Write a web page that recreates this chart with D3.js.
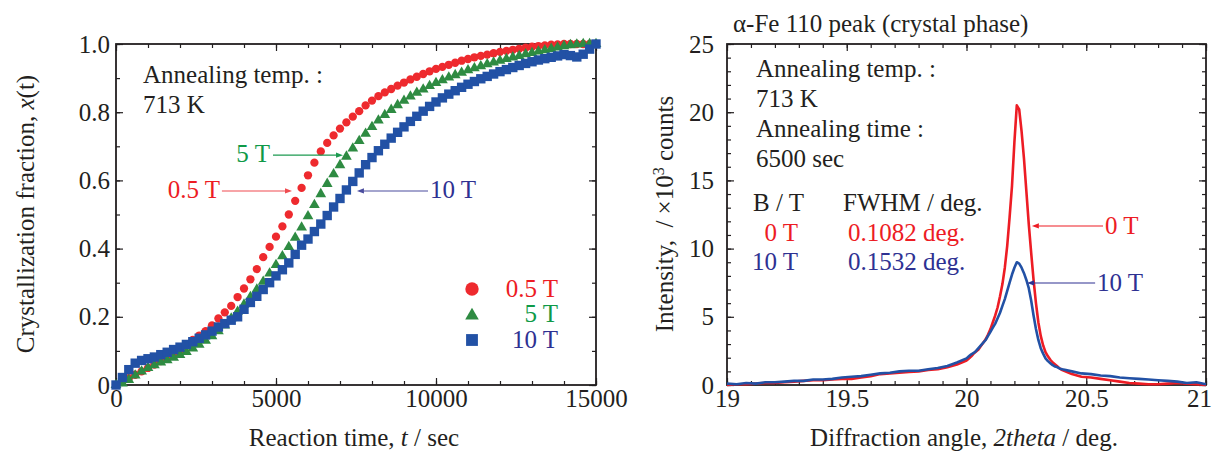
<!DOCTYPE html>
<html>
<head>
<meta charset="utf-8">
<script src="https://cdn.jsdelivr.net/npm/d3@7"></script>
<style>
  body { margin: 0; background: #fff; }
  svg text { font-family: "Liberation Serif", "Times New Roman", serif; font-size: 25px; fill: #231f20; }
</style>
</head>
<body>
<svg id="chart" width="1214" height="451"></svg>
<script>
// ---- left panel: crystallization fraction vs reaction time (sec)
const times = [0,200,400,600,800,1000,1200,1400,1600,1800,
  2000,2200,2400,2600,2800,3000,3200,3400,3600,3800,
  4000,4200,4400,4600,4800,5000,5200,5400,5600,5800,
  6000,6200,6400,6600,6800,7000,7200,7400,7600,7800,
  8000,8200,8400,8600,8800,9000,9200,9400,9600,9800,
  10000,10200,10400,10600,10800,11000,11200,11400,11600,11800,
  12000,12200,12400,12600,12800,13000,13200,13400,13600,13800,
  14000,14200,14400,14600,14800,15000];
const frac05T = [0,0.01,0.02,0.03,0.04,0.05,0.06,0.07,0.08,0.09,
  0.10,0.115,0.132,0.145,0.158,0.175,0.195,0.213,0.232,0.258,
  0.283,0.31,0.34,0.375,0.405,0.435,0.465,0.5,0.54,0.578,
  0.615,0.652,0.685,0.71,0.732,0.752,0.77,0.787,0.803,0.82,
  0.834,0.847,0.858,0.868,0.878,0.887,0.896,0.904,0.912,0.92,
  0.927,0.933,0.939,0.945,0.951,0.956,0.961,0.965,0.969,0.973,
  0.977,0.98,0.983,0.986,0.989,0.992,0.994,0.996,0.998,0.999,
  1.0,1.0,1.0,1.0,1.0,1.0];
const frac5T = [0,0.005,0.015,0.028,0.04,0.05,0.058,0.066,0.073,0.08,
  0.088,0.097,0.107,0.118,0.13,0.143,0.158,0.175,0.195,0.215,
  0.236,0.258,0.28,0.303,0.327,0.352,0.378,0.405,0.432,0.462,
  0.495,0.528,0.56,0.59,0.618,0.645,0.67,0.694,0.716,0.737,
  0.757,0.776,0.792,0.807,0.821,0.834,0.846,0.857,0.867,0.877,
  0.886,0.894,0.902,0.909,0.916,0.923,0.929,0.935,0.941,0.946,
  0.951,0.956,0.961,0.965,0.97,0.974,0.978,0.982,0.986,0.99,
  0.994,0.997,0.999,1.0,1.0,1.0];
const frac10T = [0,0.022,0.045,0.064,0.072,0.077,0.082,0.089,0.096,0.104,
  0.111,0.119,0.127,0.137,0.147,0.158,0.17,0.18,0.19,0.2,
  0.222,0.242,0.26,0.28,0.3,0.32,0.338,0.358,0.383,0.41,
  0.428,0.45,0.472,0.497,0.522,0.547,0.572,0.597,0.622,0.646,
  0.667,0.687,0.706,0.724,0.741,0.757,0.773,0.788,0.803,0.817,
  0.83,0.842,0.853,0.863,0.873,0.882,0.89,0.898,0.905,0.912,
  0.919,0.925,0.931,0.937,0.943,0.948,0.953,0.957,0.961,0.965,
  0.969,0.966,0.962,0.97,0.985,1.0];
const timeTicks = [0, 5000, 10000, 15000];
const fracTicks = [0, 0.2, 0.4, 0.6, 0.8, 1.0];

// ---- right panel: alpha-Fe 110 peak
const angles = [19.00,19.04,19.08,19.12,19.16,19.20,19.24,19.28,19.32,19.36,19.40,19.44,19.48,
  19.52,19.56,19.60,19.64,19.68,19.72,19.76,19.80,19.84,19.88,19.92,19.96,
  20.00,20.01,20.02,20.03,20.04,20.05,20.06,20.07,20.08,20.09,20.10,20.11,20.12,20.13,20.14,
  20.15,20.16,20.17,20.18,20.19,20.20,20.21,20.22,20.23,20.24,20.25,20.26,20.27,20.28,20.29,
  20.30,20.31,20.32,20.33,20.34,20.35,20.36,20.37,20.38,20.39,20.40,
  20.44,20.48,20.52,20.56,20.60,20.64,20.68,20.72,20.76,20.80,20.84,20.88,20.92,20.96,21.00];
const int0T = [0.0,0.05,0.05,0.1,0.15,0.15,0.2,0.25,0.3,0.35,0.35,0.4,0.45,
  0.45,0.55,0.65,0.8,0.85,0.9,0.95,1.0,1.1,1.15,1.3,1.5,
  1.8,1.95,2.1,2.3,2.45,2.6,2.85,3.1,3.35,3.7,4.1,4.6,5.1,5.7,6.5,
  7.4,8.6,10.2,12.3,14.6,17.8,20.5,20.2,18.6,16.6,14.2,11.8,9.7,7.7,6.0,
  4.6,3.6,2.9,2.4,2.1,1.85,1.65,1.5,1.35,1.2,1.1,
  0.8,0.6,0.55,0.45,0.35,0.25,0.15,0.1,0.05,0.05,0.1,0.15,0.1,0.05,0.0];
const int10T = [0.1,0.05,0.15,0.1,0.2,0.2,0.25,0.3,0.3,0.4,0.4,0.45,0.55,
  0.6,0.65,0.75,0.85,0.9,1.0,1.05,1.05,1.15,1.25,1.4,1.65,
  1.95,2.1,2.25,2.35,2.5,2.7,2.9,3.1,3.3,3.6,3.9,4.2,4.5,4.9,5.3,
  5.8,6.3,6.9,7.5,8.1,8.6,9.0,8.9,8.6,8.2,7.7,7.1,6.2,5.1,4.1,
  3.3,2.7,2.3,1.95,1.75,1.6,1.45,1.35,1.3,1.2,1.15,
  1.0,0.85,0.8,0.7,0.65,0.55,0.5,0.45,0.4,0.35,0.3,0.25,0.15,0.2,0.05];
const angleTicks = [19, 19.5, 20, 20.5, 21];
const intTicks = [0, 5, 10, 15, 20, 25];

const ink = '#231f20';
const red = '#ed1c24', green = '#2e8b42', greenTxt = '#0f9a48', blue = '#2251a5', blueTxt = '#2e3192';

const svg = d3.select('#chart');

const xT = d3.scaleLinear().domain([0, 15000]).range([116, 596]);
const yF = d3.scaleLinear().domain([0, 1]).range([385, 44]);
const xA = d3.scaleLinear().domain([19, 21]).range([727, 1206]);
const yI = d3.scaleLinear().domain([0, 25]).range([385, 44]);

function frame(x, y, xMinor, yMinor, xMajor, yMajor, xFmt, yFmt, yPad) {
  const [l, r] = x.range(), [b, t] = y.range();
  const g = svg.append('g');
  const put = (axis, tr) => g.append('g').attr('transform', tr).call(axis)
    .call(a => a.select('.domain').remove())
    .call(a => a.attr('font-size', null).attr('font-family', null))
    .call(a => a.selectAll('line').attr('stroke', ink).attr('stroke-width', 1.2));
  put(d3.axisBottom(x).tickValues(xMinor).tickSize(-4).tickFormat(''), `translate(0,${b})`);
  put(d3.axisTop(x).tickValues(xMinor).tickSize(-4).tickFormat(''), `translate(0,${t})`);
  put(d3.axisLeft(y).tickValues(yMinor).tickSize(-4).tickFormat(''), `translate(${l},0)`);
  put(d3.axisRight(y).tickValues(yMinor).tickSize(-4).tickFormat(''), `translate(${r},0)`);
  put(d3.axisBottom(x).tickValues(xMajor).tickSize(-7).tickPadding(4).tickFormat(xFmt), `translate(0,${b})`);
  put(d3.axisTop(x).tickValues(xMajor).tickSize(-7).tickFormat(''), `translate(0,${t})`);
  put(d3.axisLeft(y).tickValues(yMajor).tickSize(-7).tickPadding(yPad).tickFormat(yFmt), `translate(${l},0)`);
  put(d3.axisRight(y).tickValues(yMajor).tickSize(-7).tickFormat(''), `translate(${r},0)`);
  g.append('rect').attr('x', l).attr('y', t).attr('width', r - l).attr('height', b - t)
    .attr('fill', 'none').attr('stroke', ink).attr('stroke-width', 1.8);
  return g;
}

function arrow(x1, y1, x2, y2, color) {
  const a = Math.atan2(y2 - y1, x2 - x1), len = 7, hw = 2.6;
  const bx = x2 - len * Math.cos(a), by = y2 - len * Math.sin(a);
  svg.append('line').attr('x1', x1).attr('y1', y1).attr('x2', bx).attr('y2', by)
    .attr('stroke', color).attr('stroke-width', 1.1);
  svg.append('path')
    .attr('d', `M${x2},${y2}L${bx - hw * Math.sin(a)},${by + hw * Math.cos(a)}L${bx + hw * Math.sin(a)},${by - hw * Math.cos(a)}Z`)
    .attr('fill', color);
}

// parts: plain strings or {t, italic, sup, dy}
function label(x, y, parts, opts = {}) {
  const t = svg.append('text').attr('x', x).attr('y', y);
  if (opts.anchor) t.attr('text-anchor', opts.anchor);
  if (opts.fill) t.style('fill', opts.fill);
  if (opts.transform) t.attr('transform', opts.transform);
  parts.map(p => typeof p === 'string' ? { t: p } : p).forEach(p => {
    const s = t.append('tspan').text(p.t);
    if (p.italic) s.style('font-style', 'italic');
    if (p.sup) s.attr('dy', -9).style('font-size', '16px');
    if (p.dy) s.attr('dy', p.dy);
  });
  return t;
}

// ---------- left panel
frame(xT, yF, d3.range(0, 15001, 1000), d3.range(0, 1.001, 0.1), timeTicks, fracTicks,
  d3.format('d'), d => d === 0 ? '0' : d3.format('.1f')(d), 6);

const runs = [
  { vals: frac05T, shape: d3.symbolCircle, size: 54, color: '#ee2a2e' },
  { vals: frac5T, shape: d3.symbolTriangle, size: 50, color: green },
  { vals: frac10T, shape: d3.symbolSquare, size: 88, color: blue }
];
runs.forEach(run => {
  svg.append('g').selectAll('path').data(times).join('path')
    .attr('transform', (t, i) => `translate(${xT(t)},${yF(run.vals[i])})`)
    .attr('d', d3.symbol(run.shape, run.size))
    .attr('fill', run.color);
});

label(143, 83, ['Annealing temp. :']);
label(143, 113, ['713 K']);

// arrows pointing at the curves (tips in data units)
arrow(xT(3310), yF(0.569), xT(5500), yF(0.569), '#ef4b50');
label(xT(3250), yF(0.548), ['0.5 T'], { anchor: 'end', fill: red });
arrow(xT(4906), yF(0.674), xT(7094), yF(0.674), '#1c9a50');
label(xT(4810), yF(0.654), ['5 T'], { anchor: 'end', fill: greenTxt });
arrow(xT(9750), yF(0.569), xT(7530), yF(0.569), '#4a4c9e');
label(xT(9810), yF(0.548), ['10 T'], { fill: blueTxt });

// legend
const legend = [
  { shape: d3.symbolCircle, size: 140, color: '#ee2a2e', text: '0.5 T', tc: red },
  { shape: d3.symbolTriangle, size: 80, color: green, text: '5 T', tc: greenTxt },
  { shape: d3.symbolSquare, size: 140, color: blue, text: '10 T', tc: blueTxt }
];
legend.forEach((d, i) => {
  const cy = 289 + i * 25.5;
  svg.append('path').attr('transform', `translate(472,${cy + (i === 1 ? 1 : 0)})`)
    .attr('d', d3.symbol(d.shape, d.size)).attr('fill', d.color);
  label(558, cy + 7.5, [d.text], { anchor: 'end', fill: d.tc });
});

label(34, 214, ['Crystallization fraction, ', { t: 'x', italic: true }, '(t)'],
  { anchor: 'middle', transform: 'rotate(-90,34,214)' });
label(354, 446, ['Reaction time, ', { t: 't', italic: true }, ' / sec'], { anchor: 'middle' });

// ---------- right panel
const rightFrame = frame(xA, yI, d3.range(19, 21.001, 0.1), d3.range(0, 25.01, 1), angleTicks, intTicks,
  d => String(d), d => String(d), 13);
// keep the last angle label inside the page
rightFrame.selectAll('.tick text').filter(d => d === 21).attr('dx', -7);

const line = (vals) => d3.line().x((a) => xA(a)).y((a, i) => yI(vals[i]));
svg.append('path').datum(angles).attr('d', line(int0T))
  .attr('fill', 'none').attr('stroke', red).attr('stroke-width', 2.6).attr('stroke-linejoin', 'round');
svg.append('path').datum(angles).attr('d', line(int10T))
  .attr('fill', 'none').attr('stroke', blue).attr('stroke-width', 2.6).attr('stroke-linejoin', 'round');

label(733, 32, ['α-Fe 110 peak (crystal phase)']);
label(756, 77, ['Annealing temp. :']);
label(756, 107, ['713 K']);
label(756, 137, ['Annealing time :']);
label(756, 167, ['6500 sec']);
label(753, 211, ['B / T']);
label(843, 211, ['FWHM / deg.']);
label(798, 241, ['0 T'], { anchor: 'end', fill: red });
label(848, 241, ['0.1082 deg.'], { fill: red });
label(798, 270, ['10 T'], { anchor: 'end', fill: blueTxt });
label(848, 270, ['0.1532 deg.'], { fill: blueTxt });

arrow(xA(20.57), yI(11.66), xA(20.273), yI(11.66), red);
label(xA(20.578), yI(11.1), ['0 T'], { fill: red });
arrow(xA(20.537), yI(7.48), xA(20.253), yI(7.48), blueTxt);
label(xA(20.545), yI(6.92), ['10 T'], { fill: blueTxt });

label(673, 214, ['Intensity,\u00a0 / ×10', { t: '3', sup: true }, { t: ' counts', dy: 9 }],
  { anchor: 'middle', transform: 'rotate(-90,673,214)' });
label(964, 446, ['Diffraction angle, ', { t: '2theta', italic: true }, ' / deg.'], { anchor: 'middle' });
</script>
</body>
</html>
